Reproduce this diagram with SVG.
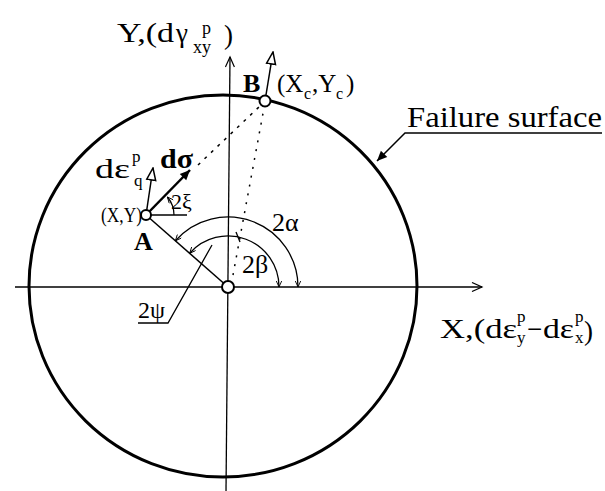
<svg xmlns="http://www.w3.org/2000/svg" width="605" height="491" viewBox="0 0 605 491">
<style>
.t{font-family:"Liberation Serif","Times New Roman",serif;fill:#000}
.b{font-weight:bold}
.ln{stroke:#000;fill:none}
</style>
<defs>
<marker id="mFill" viewBox="0 0 10 10" refX="10" refY="5" markerWidth="15" markerHeight="10" markerUnits="userSpaceOnUse" orient="auto-start-reverse"><path d="M0,0.5 L10,5 L0,9.5 z" fill="#000"/></marker>
<marker id="mV" viewBox="0 0 10 10" refX="10" refY="5" markerWidth="14" markerHeight="10" markerUnits="userSpaceOnUse" orient="auto"><path d="M0,0.5 L10,5 L0,9.5" fill="none" stroke="#000" stroke-width="1.2"/></marker>
<marker id="mTri" viewBox="-1 -1 14 12" refX="12" refY="5" markerWidth="14" markerHeight="12" markerUnits="userSpaceOnUse" orient="auto"><path d="M0,0.5 L12,5 L0,9.5 z" fill="#fff" stroke="#000" stroke-width="1.5"/></marker>
<marker id="mSm" viewBox="0 0 10 10" refX="10" refY="5" markerWidth="9" markerHeight="6" markerUnits="userSpaceOnUse" orient="auto-start-reverse"><path d="M0,0.5 L10,5 L0,9.5" fill="none" stroke="#000" stroke-width="1.5"/></marker>
</defs>
<rect width="605" height="491" fill="#fff"/>

<g id="connectors">
<line class="ln" x1="15" y1="287" x2="482" y2="287" stroke-width="1.3" marker-end="url(#mV)"/>
<line class="ln" x1="226" y1="491" x2="230" y2="57" stroke-width="1.3" marker-end="url(#mV)"/>
<line class="ln" x1="198" y1="165" x2="260" y2="106" stroke-width="1.5" stroke-dasharray="3 6"/>
<line class="ln" x1="233" y1="275" x2="264" y2="108" stroke-width="1.5" stroke-dasharray="2 7"/>
<line class="ln" x1="146" y1="215" x2="228" y2="287" stroke-width="1.5"/>
<line class="ln" x1="146" y1="215" x2="187" y2="215" stroke-width="1.3"/>
<path class="ln" d="M175.4 240.8 A70 70 0 0 1 298 287" stroke-width="1.3" marker-start="url(#mSm)" marker-end="url(#mSm)"/>
<path class="ln" d="M189.7 253.3 A51 51 0 0 1 279 287" stroke-width="1.3" marker-start="url(#mSm)" marker-end="url(#mSm)"/>
<line class="ln" x1="236" y1="232" x2="240" y2="242" stroke-width="1.3"/>
<path class="ln" d="M174 215 A28 28 0 0 0 167.4 197" stroke-width="1.2" marker-end="url(#mSm)"/>
<polyline class="ln" points="138,323 168,323 212,245" stroke-width="1.3"/>
<line class="ln" x1="146" y1="215" x2="190" y2="170" stroke-width="2.5" marker-end="url(#mFill)"/>
<line class="ln" x1="146" y1="215" x2="153" y2="168" stroke-width="1.5" marker-end="url(#mTri)"/>
<line class="ln" x1="265" y1="101" x2="273" y2="52" stroke-width="1.5" marker-end="url(#mTri)"/>
<polyline class="ln" points="602,133 405,133 377,161" stroke-width="1.5" marker-end="url(#mFill)"/>
</g>

<g id="failure-surface">
<ellipse cx="223" cy="286" rx="194" ry="191" fill="none" stroke="#000" stroke-width="3"/>
<text class="t" x="407" y="127" font-size="30" textLength="195" lengthAdjust="spacingAndGlyphs">Failure surface</text>
</g>

<g id="origin">
<circle cx="228" cy="287" r="6" fill="#fff" stroke="#000" stroke-width="2"/>
</g>

<g id="pointA">
<circle cx="146" cy="215" r="5" fill="#fff" stroke="#000" stroke-width="2"/>
<text class="t b" x="134" y="250" font-size="26">A</text>
<text class="t" x="101" y="222" font-size="22" textLength="41" lengthAdjust="spacingAndGlyphs">(X,Y)</text>
<text class="t" x="95" y="178" font-size="28" textLength="35" lengthAdjust="spacingAndGlyphs">dε</text>
<text class="t" x="132" y="162" font-size="17">p</text>
<text class="t" x="134" y="186" font-size="17">q</text>
<text class="t b" x="160" y="168" font-size="27" textLength="33" lengthAdjust="spacingAndGlyphs">dσ</text>
<text class="t" x="171" y="209" font-size="22">2ξ</text>
</g>

<g id="pointB">
<circle cx="265" cy="101" r="5.5" fill="#fff" stroke="#000" stroke-width="2"/>
<text class="t b" x="243" y="92" font-size="26">B</text>
<text class="t" x="277" y="92" font-size="25">(X</text>
<text class="t" x="304" y="99" font-size="16">c</text>
<text class="t" x="312" y="92" font-size="25">,Y</text>
<text class="t" x="336" y="99" font-size="16">c</text>
<text class="t" x="346" y="92" font-size="25">)</text>
</g>

<g id="angles">
<text class="t" x="272" y="231" font-size="26">2α</text>
<text class="t" x="242" y="273" font-size="26">2β</text>
<text class="t" x="138" y="318" font-size="24">2ψ</text>
</g>

<g id="y-axis-label">
<text class="t" x="117" y="42" font-size="27" textLength="57" lengthAdjust="spacingAndGlyphs">Y,(d</text>
<text class="t" x="176" y="42" font-size="27">γ</text>
<text class="t" x="202" y="34" font-size="18">p</text>
<text class="t" x="193" y="53" font-size="18">xy</text>
<text class="t" x="224" y="44" font-size="27">)</text>
</g>

<g id="x-axis-label">
<text class="t" x="440" y="338" font-size="27" textLength="77" lengthAdjust="spacingAndGlyphs">X,(dε</text>
<text class="t" x="517" y="322" font-size="17">p</text>
<text class="t" x="517" y="343" font-size="17">y</text>
<text class="t" x="527" y="338" font-size="27">−</text>
<text class="t" x="543" y="338" font-size="27" textLength="31" lengthAdjust="spacingAndGlyphs">dε</text>
<text class="t" x="575" y="322" font-size="17">p</text>
<text class="t" x="575" y="343" font-size="17">x</text>
<text class="t" x="584" y="340" font-size="27">)</text>
</g>
</svg>
